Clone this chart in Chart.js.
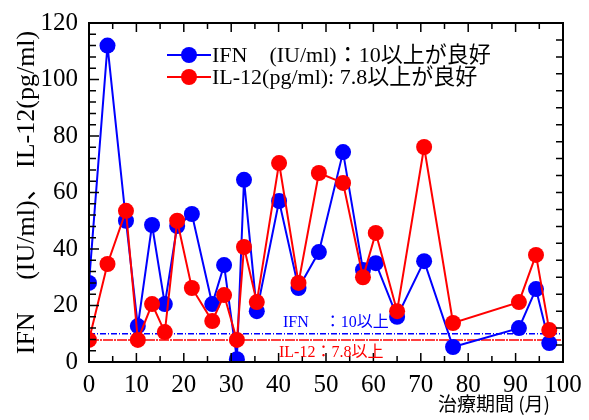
<!DOCTYPE html>
<html>
<head>
<meta charset="utf-8">
<script src="https://cdn.jsdelivr.net/npm/chart.js@4"></script>
<style>
  body { margin: 0; background: #fff; }
</style>
</head>
<body>
<canvas id="chart" width="589" height="420"></canvas>
<script>
// treatment months (x) and measured values
const months = [0, 3.9, 7.8, 10.3, 13.3, 16, 18.6, 21.7, 26, 28.5, 31.2, 32.7, 35.4, 40.1, 44.2, 48.5, 53.6, 57.8, 60.5, 65, 70.7, 76.8, 90.7, 94.3, 97.1];
const ifnValues = [28, 112, 50, 12.7, 48.5, 20.5, 48.1, 52.4, 20.5, 34.3, 1, 64.5, 18, 57, 26.2, 38.9, 74.3, 32.6, 35, 16, 35.7, 5.3, 12, 25.8, 6.7];
const il12Values = [7.8, 34.7, 53.5, 7.8, 20.5, 10.6, 50, 26.2, 14.5, 23.7, 7.8, 40.7, 21.2, 70.4, 28, 66.9, 63.4, 30, 45.7, 18, 76.1, 13.8, 21.2, 37.9, 11.3];

const ifnThreshold = 10;
const il12Threshold = 7.8;

const xTicks = [0, 10, 20, 30, 40, 50, 60, 70, 80, 90, 100];
const yTicks = [0, 20, 40, 60, 80, 100, 120];

const legendLabels = ["IFN　(IU/ml)：10以上が良好", "IL-12(pg/ml): 7.8以上が良好"];
const thresholdLabels = ["IFN　：10以上", "IL-12：7.8以上"];

const BLUE = "#0000ff";
const RED = "#ff0000";
const SERIF = '"Liberation Serif", "Noto Sans CJK JP", serif';

const toPoints = (xs, ys) => xs.map((x, i) => ({ x: x, y: ys[i] }));

// inner ticks, frame, legend and labels
const decorations = {
  id: "decorations",
  afterDraw(chart) {
    const ctx = chart.ctx;
    const a = chart.chartArea;
    const xs = chart.scales.x;
    const ys = chart.scales.y;
    ctx.save();
    ctx.strokeStyle = "#000";
    ctx.lineWidth = 2;
    ctx.strokeRect(a.left, a.top, a.right - a.left, a.bottom - a.top);

    ctx.lineWidth = 1.5;
    ctx.beginPath();
    for (let v = 0; v <= 100; v += 5) {
      const px = xs.getPixelForValue(v);
      const len = v % 10 === 0 ? 9 : 6;
      ctx.moveTo(px, a.bottom); ctx.lineTo(px, a.bottom - len);
      ctx.moveTo(px, a.top); ctx.lineTo(px, a.top + len);
    }
    for (let v = 0; v <= 120; v += 4) {
      const py = ys.getPixelForValue(v);
      const len = v % 20 === 0 ? 10 : 7;
      ctx.moveTo(a.left, py); ctx.lineTo(a.left + len, py);
    }
    for (let v = 0; v <= 120; v += 6) {
      const py = ys.getPixelForValue(v);
      ctx.moveTo(a.right, py); ctx.lineTo(a.right - 7, py);
    }
    ctx.stroke();

    // legend
    const colors = [BLUE, RED];
    colors.forEach((c, i) => {
      const y = 55 + i * 22;
      ctx.strokeStyle = c;
      ctx.fillStyle = c;
      ctx.lineWidth = 2;
      ctx.beginPath();
      ctx.moveTo(167, y); ctx.lineTo(211, y);
      ctx.stroke();
      ctx.beginPath();
      ctx.arc(189, y, 8, 0, Math.PI * 2);
      ctx.fill();
      ctx.fillStyle = "#000";
      ctx.font = "22px " + SERIF;
      ctx.textBaseline = "middle";
      ctx.textAlign = "left";
      ctx.fillText(legendLabels[i], 212, y + 1);
    });

    // threshold labels
    ctx.font = "16px " + SERIF;
    ctx.textBaseline = "middle";
    ctx.fillStyle = BLUE;
    ctx.fillText(thresholdLabels[0], 283, ys.getPixelForValue(ifnThreshold) - 11);
    ctx.fillStyle = RED;
    ctx.fillText(thresholdLabels[1], 279, ys.getPixelForValue(il12Threshold) + 13);

    // x axis title
    ctx.fillStyle = "#000";
    ctx.font = '19px "Noto Sans CJK JP", sans-serif';
    ctx.textAlign = "right";
    ctx.fillText("治療期間 (月)", 550, 404);
    ctx.restore();
  }
};

new Chart(document.getElementById("chart"), {
  type: "scatter",
  data: {
    datasets: [
      {
        label: "IFN",
        data: toPoints(months, ifnValues),
        showLine: true,
        borderColor: BLUE,
        backgroundColor: BLUE,
        borderWidth: 2,
        pointRadius: 8,
        pointHoverRadius: 8,
        pointBorderWidth: 0,
        order: 1
      },
      {
        label: "IL-12",
        data: toPoints(months, il12Values),
        showLine: true,
        borderColor: RED,
        backgroundColor: RED,
        borderWidth: 2,
        pointRadius: 8,
        pointHoverRadius: 8,
        pointBorderWidth: 0,
        order: 0
      },
      {
        label: "IFN threshold",
        data: [{ x: 0, y: ifnThreshold }, { x: 100, y: ifnThreshold }],
        showLine: true,
        borderColor: BLUE,
        borderWidth: 1.5,
        borderDash: [6, 2, 1, 2],
        pointRadius: 0,
        order: 2
      },
      {
        label: "IL-12 threshold",
        data: [{ x: 0, y: il12Threshold }, { x: 100, y: il12Threshold }],
        showLine: true,
        borderColor: RED,
        borderWidth: 1.5,
        borderDash: [10, 1, 2, 1],
        pointRadius: 0,
        order: 2
      }
    ]
  },
  options: {
    responsive: false,
    animation: false,
    layout: { padding: { top: 23, right: 26, left: 0, bottom: 0 } },
    plugins: {
      legend: { display: false },
      tooltip: { enabled: false }
    },
    scales: {
      x: {
        type: "linear",
        min: 0,
        max: 100,
        afterBuildTicks: (s) => { s.ticks = xTicks.map(v => ({ value: v })); },
        afterFit: (s) => { s.height = 58; },
        grid: { display: false },
        border: { display: false },
        ticks: { color: "#000", font: { family: SERIF, size: 25 }, padding: 0, maxRotation: 0 }
      },
      y: {
        min: 0,
        max: 120,
        afterBuildTicks: (s) => { s.ticks = yTicks.map(v => ({ value: v })); },
        afterFit: (s) => { s.width = 89; },
        grid: { display: false },
        border: { display: false },
        ticks: { color: "#000", font: { family: SERIF, size: 25 }, padding: 3 },
        title: {
          display: true,
          text: "IFN　 (IU/ml)、 IL-12(pg/ml)",
          color: "#000",
          font: { family: SERIF, size: 26 },
          padding: { top: 12, bottom: 0 }
        }
      }
    }
  },
  plugins: [decorations]
});
</script>
</body>
</html>
